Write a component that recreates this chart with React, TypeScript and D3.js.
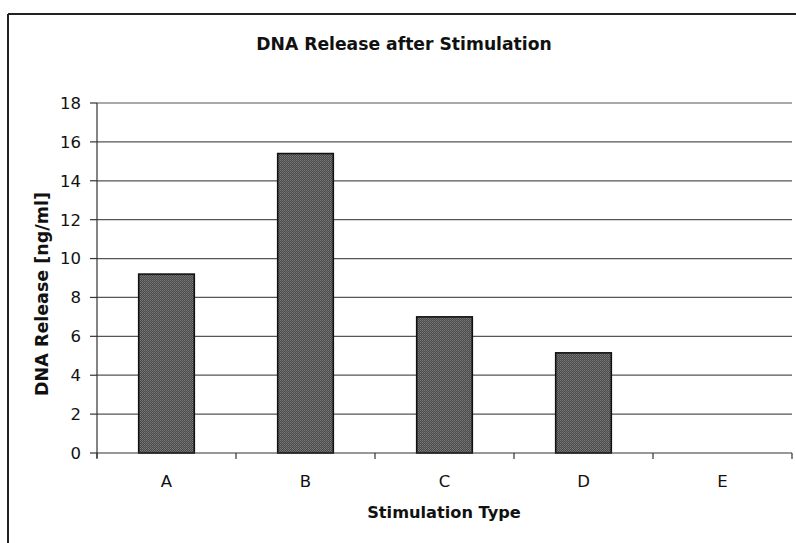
import React from "react";
import * as d3 from "d3";

const categories = ["A", "B", "C", "D", "E"];
const values = [9.2, 15.4, 7.0, 5.15, 0];
const yTicks = [0, 2, 4, 6, 8, 10, 12, 14, 16, 18];

const W = 796;
const H = 543;
const plot = { left: 97, right: 792, top: 103, bottom: 453 };

export default function App() {
  const x = d3
    .scaleBand<string>()
    .domain(categories)
    .range([plot.left, plot.right])
    .paddingInner(0.6)
    .paddingOuter(0.3);
  const band = d3.scaleBand<string>().domain(categories).range([plot.left, plot.right]);
  const y = d3.scaleLinear().domain([0, 18]).range([plot.bottom, plot.top]);
  const font = "'DejaVu Sans', Verdana, sans-serif";
  const boundaries = categories.map((c) => band(c) as number).concat([plot.right]);

  return (
    <svg
      width={W}
      height={H}
      style={{ position: "absolute", left: 0, top: 0, background: "#fff" }}
      fontFamily={font}
    >
      <defs>
        <pattern id="dither" width={2} height={2} patternUnits="userSpaceOnUse">
          <rect width={2} height={2} fill="#4a4a4a" />
          <rect width={1} height={1} fill="#7a7a7a" />
          <rect x={1} y={1} width={1} height={1} fill="#6a6a6a" />
        </pattern>
      </defs>

      {/* frame */}
      <line x1={8} y1={14} x2={W} y2={14} stroke="#222" strokeWidth={2} />
      <line x1={8} y1={14} x2={8} y2={H} stroke="#222" strokeWidth={2} />

      {/* title */}
      <text x={404} y={50} textAnchor="middle" fontWeight="bold" fontSize={17.2} fill="#111">
        DNA Release after Stimulation
      </text>

      {/* gridlines */}
      {yTicks.filter((t) => t > 0).map((t) => (
        <line key={t} x1={plot.left} x2={plot.right} y1={y(t)} y2={y(t)} stroke="#555" strokeWidth={1.2} />
      ))}

      {/* bars */}
      {categories.map((c, i) =>
        values[i] > 0 ? (
          <rect
            key={c}
            x={x(c)}
            y={y(values[i])}
            width={x.bandwidth()}
            height={y(0) - y(values[i])}
            fill="url(#dither)"
            stroke="#111"
            strokeWidth={1.6}
          />
        ) : null
      )}

      {/* y axis */}
      <line x1={plot.left} x2={plot.left} y1={plot.top} y2={plot.bottom + 5} stroke="#333" strokeWidth={1.2} />
      {yTicks.map((t) => (
        <g key={t}>
          <line x1={plot.left - 7} x2={plot.left} y1={y(t)} y2={y(t)} stroke="#333" strokeWidth={1.2} />
          <text x={81} y={y(t)} dy="0.36em" textAnchor="end" fontSize={16.5} fill="#111">
            {t}
          </text>
        </g>
      ))}

      {/* x axis */}
      <line x1={plot.left} x2={plot.right} y1={plot.bottom} y2={plot.bottom} stroke="#333" strokeWidth={1.2} />
      {boundaries.map((b, i) => (
        <line key={i} x1={b} x2={b} y1={plot.bottom} y2={plot.bottom + 6} stroke="#333" strokeWidth={1.2} />
      ))}
      {categories.map((c) => (
        <text
          key={c}
          x={(band(c) as number) + band.bandwidth() / 2}
          y={487}
          textAnchor="middle"
          fontSize={16.5}
          fill="#111"
        >
          {c}
        </text>
      ))}

      {/* axis titles */}
      <text x={444} y={518} textAnchor="middle" fontWeight="bold" fontSize={16.2} fill="#111">
        Stimulation Type
      </text>
      <text
        transform={`translate(48,${294}) rotate(-90)`}
        textAnchor="middle"
        fontWeight="bold"
        fontSize={17.5}
        fill="#111"
      >
        DNA Release [ng/ml]
      </text>
    </svg>
  );
}
